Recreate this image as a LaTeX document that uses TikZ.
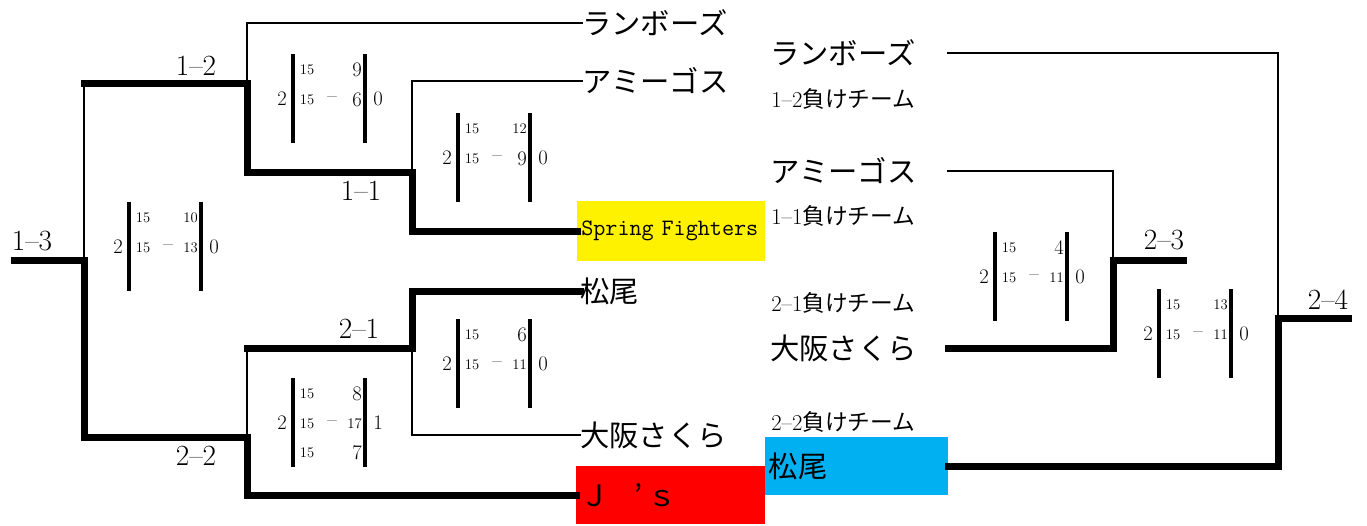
\documentclass[tikz,border=0pt]{standalone}
\usepackage{fontspec}
\newfontfamily\jpfont{Noto Sans CJK JP}
\definecolor{xlblue}{HTML}{00B0F0}
\newcommand\bigsz{\fontsize{15.5}{17}\selectfont}
\newcommand\smsz{\fontsize{11}{13}\selectfont}
% score table: #1 name, #2 left bar x, #3 top y, #4 sets won left, #5 sets won right, #6 row1 right, #7 row2 right
\newcommand\scorebox[7]{%
  \draw[scorebar] (#2,#3) -- (#2,#3+89);
  \draw[scorebar] (#2+72,#3) -- (#2+72,#3+89);
  \node[font=\bigsz] (#1-w) at (#2-11,#3+45) {#4};
  \node[font=\bigsz] (#1-l) at (#2+85,#3+45) {#5};
  \node[font=\smsz] (#1-a1) at (#2+14,#3+16) {15};
  \node[font=\smsz] (#1-a2) at (#2+14,#3+46) {15};
  \node[font=\bigsz] (#1-d) at (#2+39,#3+46) {--};
  \node[font=\bigsz,anchor=east] (#1-b1) at (#2+69,#3+16) {#6};
  \node[font=\bigsz,anchor=east] (#1-b2) at (#2+69,#3+46) {#7};
}
\begin{document}
\begin{tikzpicture}[x=0.75pt,y=-0.75pt,
  every node/.style={inner sep=0pt},
  thinline/.style={line width=2.2pt,line cap=rect},
  thickline/.style={line width=5.25pt,line cap=rect},
  scorebar/.style={line width=2.4pt},
  rlabel/.style={font=\fontsize{22}{24}\selectfont},
  tname/.style={font=\jpfont\fontsize{22}{24}\selectfont,anchor=west},
  lname/.style={font=\fontsize{17}{19}\selectfont,anchor=west}]
\useasboundingbox (0,0) rectangle (1367,525);

% coloured team boxes
\node[fill=yellow,anchor=north west,minimum width=141pt,minimum height=45pt,
      text width=135pt,inner xsep=3pt,align=left,font=\ttfamily\fontsize{17.6}{19}\selectfont]
      (sf) at (577,201) {Spring Fighters};
\node[fill=red,anchor=north west,minimum width=141.75pt,minimum height=43.5pt,
      text width=136pt,inner xsep=2.9pt,align=left,font=\jpfont\fontsize{22}{24}\selectfont]
      (js) at (576,466) {Ｊ\kern18.5pt’\kern4ptｓ};
\node[fill=xlblue,anchor=north west,minimum width=137.25pt,minimum height=43.5pt,
      text width=132pt,inner xsep=2.6pt,align=left,font=\jpfont\fontsize{22}{24}\selectfont]
      (mb) at (765,437) {松尾};

% left column team names
\node[tname] (l-rb) at (582,23) {ランボーズ};
\node[tname] (l-am) at (582,81) {アミーゴス};
\node[tname] (l-ma) at (580,291) {松尾};
\node[tname] (l-os) at (580,435) {大阪さくら};

% right column team names
\node[tname] (r-rb) at (770,53) {ランボーズ};
\node[lname] (r-l12) at (771,99) {1--2{\jpfont 負けチーム}};
\node[tname] (r-am) at (770,171) {アミーゴス};
\node[lname] (r-l11) at (771,216) {1--1{\jpfont 負けチーム}};
\node[lname] (r-l21) at (771,303) {2--1{\jpfont 負けチーム}};
\node[tname] (r-os) at (770,348) {大阪さくら};
\node[lname] (r-l22) at (771,422) {2--2{\jpfont 負けチーム}};

% junctions
\coordinate (m13) at (84,260);
\coordinate (m12) at (247,83);
\coordinate (m22) at (247,437);
\coordinate (m11) at (412,172);
\coordinate (m21) at (412,348);
\coordinate (m23) at (1113,260);
\coordinate (m24) at (1278,318);
\coordinate (e13) at (14,260);
\coordinate (e23) at (1183,260);
\coordinate (e24) at (1348,318);
\coordinate (s-rb) at (948,53);
\coordinate (s-am) at (948,171);
\coordinate (s-os) at (948,348);

% left bracket
\draw[thinline] (m13) |- (m12);
\draw[thickline] (84,83) -- (m12);
\draw[thickline] (e13) -- (m13) |- (m22);
\draw[thinline] (m12) |- (l-rb.west);
\draw[thickline] (m12) |- (m11);
\draw[thinline] (m11) |- (l-am.west);
\draw[thickline] (m11) |- (sf.west);
\draw[thickline] (247,348) -- (m21);
\draw[thinline] (m22) -- (247,348);
\draw[thickline] (m21) |- (l-ma.west);
\draw[thinline] (m21) |- (l-os.west);
\draw[thickline] (m22) |- (js.west);

% right bracket
\draw[thinline] (s-rb) -| (m24);
\draw[thickline] (mb.east) -| (m24) -- (e24);
\draw[thinline] (s-am) -| (m23);
\draw[thickline] (s-os) -| (m23) -- (e23);

% round labels
\node[rlabel] (t13) at (32,241) {1--3};
\node[rlabel] (t12) at (196,66) {1--2};
\node[rlabel] (t11) at (361,191) {1--1};
\node[rlabel] (t21) at (359,329) {2--1};
\node[rlabel] (t22) at (196,456) {2--2};
\node[rlabel] (t23) at (1164,240) {2--3};
\node[rlabel] (t24) at (1328,300) {2--4};

% score tables
\scorebox{s13}{129}{202}{2}{0}{\smsz 10}{\smsz 13}
\scorebox{s12}{293}{54}{2}{0}{9}{6}
\scorebox{s11}{458}{113}{2}{0}{\smsz 12}{9}
\scorebox{s21}{458}{319}{2}{0}{6}{\smsz 11}
\scorebox{s22}{293}{378}{2}{1}{8}{\smsz 17}
\node[font=\smsz] (s22-a3) at (307,453) {15};
\node[font=\bigsz,anchor=east] (s22-b3) at (362,453) {7};
\scorebox{s23}{995}{232}{2}{0}{4}{\smsz 11}
\scorebox{s24}{1159}{289}{2}{0}{\smsz 13}{\smsz 11}
\end{tikzpicture}
\end{document}
